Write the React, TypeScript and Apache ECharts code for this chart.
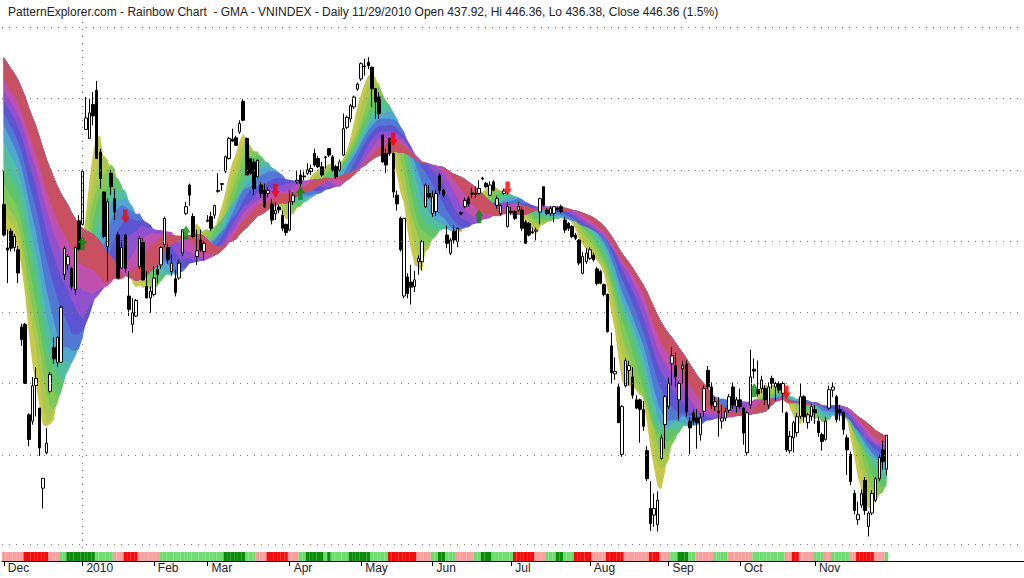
import React, { useEffect, useRef } from "react";
import * as echarts from "echarts";

const TITLE =
  "PatternExplorer.com - Rainbow Chart  - GMA - VNINDEX - Daily 11/29/2010 Open 437.92, Hi 446.36, Lo 436.38, Close 446.36 (1.5%)";

const monthLabels = ["Dec", "2010", "Feb", "Mar", "Apr", "May", "Jun", "Jul", "Aug", "Sep", "Oct", "Nov"];
const monthStartIdx = [0, 22, 42, 57, 80, 100, 120, 142, 164, 186, 206, 227];
const yearLineIdx = 22;
const futureDays = 38;

const opens = [
  508.0, 495.8, 500.5, 495.9, 495.3, 474.3, 475.0, 451.5, 449.9, 459.0,
  453.2, 433.3, 442.0, 457.5, 468.9, 465.0, 465.0, 488.4, 491.1, 490.2,
  484.3, 503.4, 502.4, 529.9, 527.2, 537.3, 541.6, 523.2, 511.6, 496.2,
  517.0, 509.7, 499.4, 490.2, 499.4, 482.6, 475.0, 477.2, 490.6, 497.4,
  485.2, 482.1, 483.0, 489.8, 491.1, 496.7, 495.9, 489.3, 487.3, 487.5,
  494.4, 505.5, 513.6, 504.6, 493.4, 498.0, 494.8, 503.6, 504.6, 505.0,
  512.0, 514.0, 517.6, 521.3, 527.0, 527.4, 529.1, 538.3, 527.2, 521.3,
  520.3, 516.0, 513.6, 512.1, 511.2, 508.2, 505.4, 507.3, 505.0, 502.4,
  500.8, 508.8, 514.5, 516.5, 516.2, 517.0, 517.5, 522.8, 521.3, 518.9,
  521.8, 524.2, 521.8, 518.9, 517.9, 522.3, 530.5, 533.0, 536.6, 542.0,
  545.1, 549.1, 550.2, 548.7, 542.1, 539.6, 528.2, 522.8, 527.2, 522.8,
  510.7, 504.1, 482.6, 487.8, 486.4, 485.2, 492.0, 492.0, 507.4, 511.2,
  505.5, 506.0, 516.5, 512.1, 499.4, 494.3, 500.5, 497.6, 505.7, 507.4,
  509.7, 511.3, 511.2, 511.2, 515.4, 514.1, 510.7, 514.5, 507.8, 505.5,
  511.2, 501.8, 506.1, 506.0, 506.4, 506.4, 503.1, 502.7, 500.3, 500.5,
  505.9, 513.1, 506.4, 505.5, 505.5, 507.0, 507.4, 503.6, 502.7, 501.8,
  499.4, 498.0, 488.8, 492.0, 492.9, 493.8, 490.0, 489.3, 485.7, 483.0,
  469.3, 462.0, 458.6, 441.6, 458.9, 462.9, 461.2, 455.3, 455.3, 452.8,
  442.5, 428.4, 426.8, 424.5, 440.6, 449.0, 453.6, 464.6, 464.1, 455.3,
  463.3, 464.5, 449.9, 452.0, 450.7, 446.5, 452.4, 462.9, 458.6, 453.6,
  452.4, 449.9, 450.7, 452.7, 458.6, 453.6, 455.3, 453.2, 442.0, 454.0,
  463.2, 458.0, 458.2, 458.2, 454.0, 460.8, 458.6, 459.5, 456.9, 452.0,
  442.5, 445.7, 447.0, 451.1, 456.1, 449.5, 451.1, 452.8, 449.9, 446.5,
  445.3, 453.2, 457.8, 456.1, 452.8, 452.0, 445.7, 441.6, 432.0, 425.7,
  429.2, 435.2, 424.1, 427.3, 430.4, 435.6, 442.7, 437.92,
];

const highs = [
  517.6, 500.9, 501.3, 499.6, 496.3, 475.2, 475.4, 451.9, 461.2, 463.7,
  453.2, 435.7, 448.2, 462.5, 471.5, 471.9, 480.0, 496.2, 494.0, 490.6,
  496.4, 505.0, 517.8, 539.6, 539.1, 541.1, 544.5, 524.2, 511.8, 509.7,
  518.0, 512.6, 500.3, 498.0, 499.6, 489.3, 482.1, 481.8, 499.0, 498.5,
  489.3, 485.2, 490.8, 491.0, 496.2, 504.6, 497.0, 494.0, 489.8, 492.5,
  501.0, 508.8, 514.0, 505.5, 500.9, 500.9, 497.6, 505.0, 506.0, 508.0,
  517.0, 514.2, 522.2, 527.7, 530.1, 528.0, 532.6, 539.0, 527.5, 521.5,
  521.2, 521.2, 514.5, 514.0, 513.0, 509.7, 508.8, 508.0, 506.3, 502.6,
  512.1, 511.5, 517.6, 518.0, 517.5, 519.9, 519.5, 524.2, 522.0, 520.3,
  522.0, 524.4, 522.3, 519.5, 521.0, 534.6, 534.0, 537.5, 540.0, 544.0,
  550.2, 551.3, 551.8, 548.9, 542.3, 541.1, 528.3, 524.2, 527.5, 523.0,
  512.0, 504.6, 504.1, 488.8, 491.1, 489.5, 493.8, 498.0, 514.0, 513.6,
  512.0, 512.1, 517.0, 512.5, 502.0, 498.5, 502.0, 501.5, 506.0, 510.0,
  510.5, 512.8, 513.2, 515.0, 516.0, 514.5, 514.7, 515.0, 510.5, 508.0,
  512.5, 508.8, 507.4, 506.3, 508.8, 507.4, 503.6, 503.0, 501.5, 501.5,
  510.0, 513.2, 507.0, 507.5, 507.6, 507.5, 508.0, 504.3, 503.0, 502.2,
  500.0, 498.2, 494.7, 495.7, 496.0, 494.5, 490.5, 489.8, 486.0, 483.3,
  472.8, 466.3, 459.5, 454.0, 466.0, 465.4, 463.7, 456.5, 455.6, 455.0,
  443.6, 435.0, 432.0, 432.5, 446.5, 456.5, 461.0, 468.9, 467.5, 460.0,
  465.4, 465.5, 450.9, 452.8, 453.0, 452.0, 459.0, 464.0, 459.8, 456.0,
  456.0, 454.0, 453.2, 456.8, 459.8, 456.0, 458.2, 453.5, 452.5, 468.3,
  466.0, 465.5, 461.5, 459.0, 459.8, 461.5, 460.0, 460.0, 460.0, 452.3,
  447.4, 450.0, 452.0, 459.5, 456.5, 452.0, 454.4, 454.0, 451.0, 447.0,
  451.0, 459.0, 459.8, 456.5, 454.0, 452.4, 446.5, 442.3, 432.8, 430.0,
  433.0, 436.0, 427.7, 432.8, 436.0, 441.5, 445.0, 446.36,
];

const lows = [
  499.0, 486.1, 494.8, 494.8, 486.1, 469.3, 459.5, 443.6, 449.0, 451.1,
  441.2, 428.4, 441.6, 457.0, 464.6, 463.8, 465.0, 487.0, 489.6, 484.3,
  483.0, 495.0, 502.0, 529.7, 527.0, 531.1, 521.3, 512.6, 498.5, 486.6,
  510.7, 503.6, 487.5, 490.0, 489.0, 477.2, 472.8, 477.0, 490.0, 486.7,
  482.0, 478.1, 482.5, 486.0, 490.0, 496.0, 491.5, 488.0, 482.5, 487.0,
  493.5, 505.0, 507.7, 498.5, 491.1, 494.8, 492.5, 503.0, 500.5, 504.0,
  511.4, 512.0, 517.0, 521.0, 526.2, 525.0, 528.5, 532.3, 516.5, 516.5,
  510.7, 515.5, 510.0, 507.0, 510.0, 502.4, 503.6, 505.5, 500.5, 499.2,
  500.5, 508.0, 514.0, 512.0, 515.0, 516.5, 516.5, 518.9, 518.5, 516.0,
  518.4, 521.8, 517.5, 515.5, 517.5, 522.0, 530.0, 532.0, 536.0, 541.5,
  544.5, 546.1, 548.1, 536.6, 533.1, 533.1, 520.0, 517.0, 522.0, 510.0,
  506.3, 494.8, 482.0, 482.0, 480.3, 483.7, 488.4, 489.6, 507.0, 509.7,
  504.5, 504.8, 511.0, 510.0, 495.7, 493.8, 497.0, 496.0, 505.0, 507.0,
  507.5, 510.0, 510.0, 510.8, 515.0, 512.8, 510.4, 511.8, 506.8, 505.0,
  510.8, 501.5, 505.0, 503.6, 506.0, 500.5, 497.0, 499.0, 499.7, 497.9,
  502.4, 507.4, 505.0, 504.8, 503.0, 506.0, 505.5, 500.0, 500.5, 498.5,
  498.0, 491.0, 488.5, 491.4, 492.5, 492.0, 485.5, 485.8, 482.5, 472.8,
  459.5, 460.4, 449.5, 441.0, 458.5, 459.0, 455.6, 453.0, 444.5, 447.4,
  435.0, 423.0, 424.0, 422.9, 440.3, 443.0, 453.0, 459.0, 458.6, 450.0,
  459.5, 451.1, 441.6, 448.9, 443.0, 445.0, 451.0, 458.0, 453.0, 452.5,
  446.0, 448.0, 449.9, 452.0, 453.0, 452.0, 453.0, 444.0, 441.3, 453.0,
  460.8, 456.0, 457.0, 454.0, 453.0, 458.2, 455.0, 457.0, 452.0, 442.2,
  441.8, 442.0, 446.0, 450.5, 449.5, 448.0, 450.0, 449.2, 446.0, 442.5,
  445.0, 452.7, 456.0, 449.6, 450.0, 446.5, 436.5, 434.0, 427.0, 424.5,
  428.5, 426.9, 421.7, 426.8, 429.9, 435.0, 437.8, 436.38,
];

const closes = [
  499.4, 495.2, 495.7, 499.0, 488.9, 471.0, 459.5, 445.3, 458.9, 460.8,
  443.2, 435.7, 444.4, 461.9, 465.9, 471.5, 479.6, 495.7, 493.4, 485.2,
  495.9, 495.5, 517.6, 533.3, 534.8, 533.9, 521.3, 515.5, 499.0, 508.8,
  513.1, 505.9, 487.5, 495.9, 490.2, 479.0, 478.1, 481.4, 498.5, 487.0,
  482.1, 483.9, 487.5, 488.5, 495.9, 504.1, 492.5, 491.6, 483.5, 491.6,
  500.9, 507.4, 510.7, 499.0, 495.0, 495.2, 497.1, 503.3, 501.3, 507.7,
  511.8, 513.8, 521.8, 527.2, 526.4, 525.2, 531.6, 532.6, 516.5, 517.0,
  512.6, 520.8, 511.2, 507.4, 512.1, 503.6, 506.3, 506.5, 501.3, 500.1,
  508.8, 510.7, 515.0, 514.0, 516.0, 518.0, 518.4, 519.4, 518.9, 516.5,
  521.6, 522.3, 517.9, 516.0, 520.3, 530.1, 533.5, 537.0, 539.6, 543.5,
  549.8, 548.8, 549.2, 542.1, 538.1, 534.6, 520.3, 519.4, 522.8, 511.6,
  508.2, 495.3, 504.1, 483.3, 485.0, 487.0, 492.9, 497.6, 513.6, 510.2,
  510.2, 511.2, 512.1, 510.7, 497.1, 498.0, 498.0, 501.3, 505.3, 509.2,
  508.2, 511.0, 510.9, 512.6, 515.6, 513.1, 513.6, 512.1, 509.7, 507.8,
  511.9, 507.4, 505.8, 504.1, 507.4, 501.3, 497.1, 499.4, 500.0, 500.8,
  509.7, 507.8, 505.5, 506.9, 507.4, 506.6, 506.0, 500.8, 501.3, 499.0,
  498.5, 491.6, 493.4, 494.4, 495.3, 492.5, 486.0, 486.1, 483.0, 473.1,
  462.3, 462.6, 449.5, 453.6, 465.4, 464.1, 456.5, 453.2, 452.9, 448.6,
  435.6, 424.8, 428.4, 430.4, 445.7, 456.1, 459.5, 466.7, 461.2, 459.5,
  464.1, 452.4, 448.2, 449.9, 449.5, 450.7, 458.2, 458.6, 454.0, 454.8,
  452.0, 450.7, 452.4, 456.1, 454.0, 455.3, 453.6, 446.9, 452.0, 461.2,
  462.7, 456.8, 460.4, 455.3, 458.6, 459.5, 459.5, 457.8, 459.5, 442.7,
  446.1, 449.5, 451.0, 456.1, 451.1, 451.5, 453.6, 452.0, 447.0, 444.8,
  449.9, 457.9, 458.6, 450.3, 452.0, 447.8, 442.7, 434.9, 427.9, 426.9,
  432.0, 427.9, 427.3, 432.0, 435.6, 440.8, 439.8, 446.36,
];

// Rainbow: moving averages of the close (fastest first). Before a window is full,
// the days ahead of the chart count at the level read off the picture on the first day.
const maPeriods = [5, 7, 9, 11, 13, 15, 17, 20, 23, 26, 29, 34];
const maSeeds = [502.0, 506.9, 510.7, 515.5, 521.3, 528.2, 533.1, 536.6, 540.3, 543.5, 546.5, 553.3];
const bandColors = [
  "#c8c84c", "#a8c84e", "#80c858", "#60c46c", "#52c0a0", "#50a8d0",
  "#5078d4", "#5c54d0", "#9050d0", "#c050b0", "#c85060",
];

const gridValues = [420, 440, 460, 480, 500, 520, 540, 560];

// signal strip: [colour code, number of days]; 0 red, 1 pink, 2 light green, 3 green
const stripRuns = [
  [1, 6], [0, 7], [1, 3], [2, 2], [3, 8], [2, 5], [1, 3], [0, 4], [1, 6], [2, 18],
  [3, 6], [2, 3], [1, 3], [0, 6], [1, 3], [2, 2], [3, 5], [2, 1], [3, 1], [2, 5],
  [3, 6], [2, 5], [0, 8], [1, 4], [2, 2], [3, 2], [2, 3], [1, 5], [2, 2], [3, 3],
  [2, 6], [0, 6], [1, 3], [2, 3], [3, 2], [2, 3], [0, 5], [1, 4], [0, 5], [1, 7],
  [0, 3], [1, 3], [2, 2], [3, 3], [2, 2], [1, 5], [2, 4], [1, 7], [2, 9], [1, 2],
  [0, 2], [1, 4], [2, 3], [1, 2], [2, 5], [1, 2], [0, 5], [1, 3], [2, 1],
];
const stripColors = ["#f40c0c", "#f8a0a0", "#6edc6e", "#0a8c0a"];

// arrows: [day index, price level]
const downArrows = [[34, 504.6], [76, 511.9], [109, 526.9], [141, 512.6], [219, 457.2]];
const upArrows = [[22, 497.1], [51, 500.1], [83, 511.3], [133, 504.7], [210, 457.8]];

const FONT = "'Liberation Sans', Arial, sans-serif";

export default function App() {
  const ref = useRef<HTMLDivElement>(null);

  useEffect(() => {
    const chart = echarts.init(ref.current!, null, { renderer: "svg" });
    const L = (v: number) => Math.log(v);
    const n = closes.length;
    const total = n + futureDays;
    const cats = Array.from({ length: total }, (_, i) => "d" + i);
    const monthSet = new Set(monthStartIdx);

    const candle = closes.map((c, i) => [L(opens[i]), L(c), L(lows[i]), L(highs[i])]);

    const lines = maPeriods.map((p, k) => {
      const out: number[] = [];
      for (let i = 0; i < n; i++) {
        let s = 0;
        for (let j = i - p + 1; j <= i; j++) s += j >= 0 ? closes[j] : maSeeds[k];
        out.push(s / p);
      }
      return out;
    });
    const slowest = lines[lines.length - 1];

    const stripData: any[] = [];
    stripRuns.forEach(([code, count]) => {
      for (let j = 0; j < count; j++) stripData.push({ value: 1, itemStyle: { color: stripColors[code] } });
    });

    const downPath = "path://M2,0 L6,0 L6,6 L8,6 L4,12 L0,6 L2,6 Z";
    const upPath = "path://M4,0 L8,6 L6,6 L6,12 L2,12 L2,6 L0,6 Z";

    const option: any = {
      animation: false,
      backgroundColor: "#ffffff",
      title: {
        text: TITLE,
        left: 3,
        top: 1,
        textStyle: { fontSize: 12, fontWeight: "normal", color: "#222", fontFamily: FONT },
      },
      grid: [
        { left: 2, right: 0, top: 15, height: 533 },
        { left: 2, right: 0, top: 552, height: 9 },
      ],
      xAxis: [
        { type: "category", gridIndex: 0, data: cats, show: false, boundaryGap: true },
        {
          type: "category",
          gridIndex: 1,
          data: cats,
          boundaryGap: true,
          axisLine: { show: true, lineStyle: { color: "#000", width: 1 } },
          axisTick: {
            show: true,
            alignWithLabel: true,
            interval: (i: number) => monthSet.has(i),
            length: 5,
            lineStyle: { color: "#000" },
          },
          axisLabel: {
            interval: (i: number) => monthSet.has(i),
            formatter: (_v: string, i: number) => {
              const m = monthStartIdx.indexOf(i);
              return m >= 0 ? monthLabels[m] : "";
            },
            align: "left",
            padding: [0, 0, 0, 4],
            margin: 1,
            color: "#222",
            fontSize: 12,
            fontFamily: FONT,
            hideOverlap: false,
          },
          splitLine: { show: false },
        },
      ],
      yAxis: [
        { type: "value", gridIndex: 0, min: L(419), max: L(565), show: false, splitLine: { show: false } },
        { type: "value", gridIndex: 1, min: 0, max: 1, show: false, splitLine: { show: false } },
      ],
      series: [
        {
          type: "custom",
          xAxisIndex: 0,
          yAxisIndex: 0,
          silent: true,
          z: 1,
          data: bandColors.map((_, k) => [k, L(500)]),
          renderItem: (_params: any, api: any) => {
            const k = api.value(0) as number;
            const pts: number[][] = [];
            for (let i = 0; i < n; i++) pts.push(api.coord([i, L(lines[k][i])]));
            for (let i = n - 1; i >= 0; i--) pts.push(api.coord([i, L(slowest[i])]));
            return { type: "polygon", shape: { points: pts }, style: { fill: bandColors[k] } };
          },
        },
        {
          type: "candlestick",
          xAxisIndex: 0,
          yAxisIndex: 0,
          z: 3,
          barWidth: 3,
          data: candle,
          itemStyle: { color: "#ffffff", color0: "#000000", borderColor: "#000000", borderColor0: "#000000", borderWidth: 1 },
          markLine: {
            silent: true,
            symbol: "none",
            label: { show: false },
            lineStyle: { type: [1, 6], color: "#7a7a7a", width: 1 },
            data: [...gridValues.map((v) => ({ yAxis: L(v) })), { xAxis: cats[yearLineIdx] }],
          },
        },
        {
          type: "scatter",
          xAxisIndex: 0,
          yAxisIndex: 0,
          z: 4,
          symbol: downPath,
          symbolSize: [9, 14],
          itemStyle: { color: "#ff0000" },
          data: downArrows.map(([i, v]) => [i, L(v)]),
        },
        {
          type: "scatter",
          xAxisIndex: 0,
          yAxisIndex: 0,
          z: 4,
          symbol: upPath,
          symbolSize: [9, 14],
          itemStyle: { color: "#0a8a0a" },
          data: upArrows.map(([i, v]) => [i, L(v)]),
        },
        {
          type: "bar",
          xAxisIndex: 1,
          yAxisIndex: 1,
          silent: true,
          barWidth: "100%",
          data: stripData,
        },
      ],
    };
    chart.setOption(option);
    return () => chart.dispose();
  }, []);

  return <div ref={ref} style={{ position: "absolute", left: 0, top: 0, width: 1024, height: 578, background: "#fff" }} />;
}
